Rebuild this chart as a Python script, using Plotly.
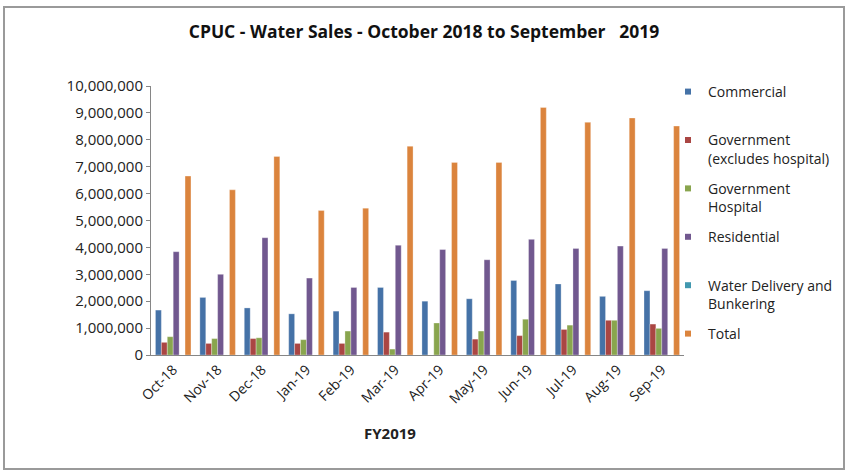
import plotly.graph_objects as go

months = ["Oct-18", "Nov-18", "Dec-18", "Jan-19", "Feb-19", "Mar-19",
          "Apr-19", "May-19", "Jun-19", "Jul-19", "Aug-19", "Sep-19"]

commercial = [1670000, 2140000, 1750000, 1530000, 1630000, 2510000,
              2000000, 2090000, 2770000, 2640000, 2180000, 2390000]
government = [470000, 430000, 610000, 430000, 430000, 850000,
              0, 590000, 720000, 950000, 1290000, 1150000]
hospital = [680000, 610000, 640000, 570000, 890000, 220000,
            1190000, 890000, 1330000, 1110000, 1290000, 990000]
residential = [3840000, 3000000, 4360000, 2860000, 2510000, 4080000,
               3920000, 3540000, 4300000, 3960000, 4050000, 3960000]
water_delivery = [0, 0, 0, 0, 0, 0, 0, 0, 0, 0, 0, 0]
total = [6650000, 6140000, 7380000, 5370000, 5460000, 7760000,
         7160000, 7160000, 9200000, 8650000, 8810000, 8510000]

series = [
    ("Commercial", "Commercial<br>&nbsp;", commercial, "#4572A7"),
    ("Government (excludes hospital)", "Government<br>(excludes hospital)", government, "#AA4643"),
    ("Government Hospital", "Government<br>Hospital", hospital, "#89A54E"),
    ("Residential", "Residential<br>&nbsp;", residential, "#71588F"),
    ("Water Delivery and Bunkering", "Water Delivery and<br>Bunkering", water_delivery, "#4198AF"),
    ("Total", "Total", total, "#DB843D"),
]

FONT = "Open Sans"

fig = go.Figure()
for name, _, vals, color in series:
    fig.add_trace(go.Bar(
        x=months, y=vals, name=name,
        marker=dict(color=color, line=dict(color="rgba(255,255,255,0.6)", width=0.5)),
        showlegend=False,
    ))
for i, (_, label, vals, color) in enumerate(series):
    fig.add_trace(go.Scatter(
        x=[None], y=[None], mode="markers", name=label,
        legendgroup="g%d" % i,
        marker=dict(symbol="square", size=6, color=color),
        showlegend=True,
    ))

L, R, T, B = 151, 165, 86, 116
W, H = 849, 471
pw, ph = W - L - R, H - T - B

def px_x(x):
    return (x - L) / pw

def px_y(y):
    return (H - B - y) / ph

fig.update_layout(
    width=W, height=H,
    margin=dict(l=L, r=R, t=T, b=B, autoexpand=False),
    paper_bgcolor="white", plot_bgcolor="white",
    barmode="group", bargap=0.2, bargroupgap=0,
    font=dict(family=FONT, size=14, color="#222222"),
    title=dict(text="<b>CPUC - Water Sales - October 2018 to September   2019</b>",
               x=px_x(424), xref="paper", xanchor="center",
               y=1 - 32 / H, yanchor="middle", yref="container",
               font=dict(family=FONT, size=17.5, color="#111111")),
    showlegend=True,
    legend=dict(x=px_x(668), y=px_y(76), xanchor="left", yanchor="top",
                valign="top", tracegroupgap=9, traceorder="grouped",
                font=dict(family=FONT, size=14, color="#222222"),
                bgcolor="rgba(0,0,0,0)", itemwidth=30),
    xaxis=dict(
        tickangle=-45, tickfont=dict(family=FONT, size=14, color="#222222"),
        showline=True, linecolor="#868686", linewidth=1,
        ticks="", showgrid=False, zeroline=False,
        range=[-0.5, 11.5],
    ),
    yaxis=dict(
        range=[0, 10000000], dtick=1000000, tick0=0,
        tickformat=",d", tickfont=dict(family=FONT, size=15, color="#222222"),
        showline=True, linecolor="#868686", linewidth=1,
        ticks="outside", ticklen=4, tickcolor="#868686",
        showgrid=False, zeroline=False,
    ),
    annotations=[dict(text="<b>FY2019</b>", xref="paper", yref="paper",
                      x=px_x(390), y=px_y(433), xanchor="center", yanchor="middle",
                      showarrow=False,
                      font=dict(family=FONT, size=15, color="#222222"))],
    shapes=[dict(type="rect", xref="paper", yref="paper",
                 x0=px_x(4), x1=px_x(844), y0=px_y(469), y1=px_y(7),
                 line=dict(color="#9a9a9a", width=2), fillcolor="rgba(0,0,0,0)",
                 layer="below")],
)
try:
    fig.update_layout(legend_maxheight=450)
except Exception:
    pass

fig.write_html("out.html", config={"displayModeBar": False},
               post_script="document.body.style.margin='0';document.body.style.overflow='hidden';")
